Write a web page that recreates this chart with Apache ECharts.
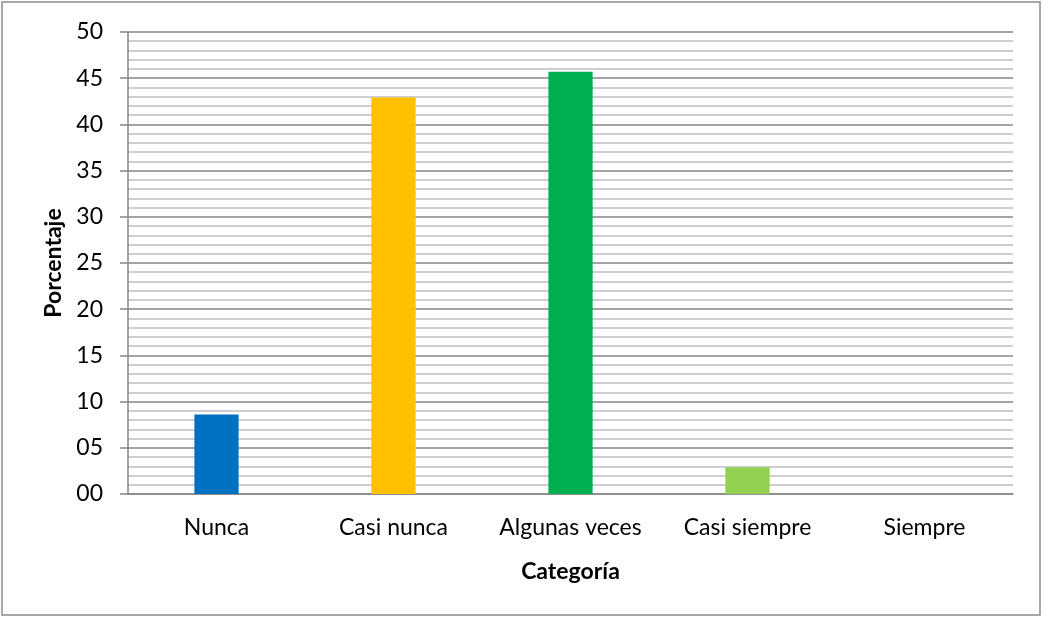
<!DOCTYPE html>
<html>
<head>
<meta charset="utf-8">
<script src="https://cdn.jsdelivr.net/npm/echarts@6/dist/echarts.min.js"></script>
<style>
  html, body { margin: 0; padding: 0; background: #fff; }
  #chart { width: 1043px; height: 618px; }
</style>
</head>
<body>
<div id="chart"></div>
<script>
// Response categories and their percentages
const categories = ['Nunca', 'Casi nunca', 'Algunas veces', 'Casi siempre', 'Siempre'];
const percentages = [8.6, 42.9, 45.7, 2.9, 0];
const barColors = ['#0070C0', '#FFC000', '#00B050', '#92D050', '#7F7F7F'];
const yMin = 0;
const yMax = 50;
const yStep = 5;

const FONT = 'Lato, "Open Sans", sans-serif';

const chart = echarts.init(document.getElementById('chart'), null, { renderer: 'canvas' });

chart.setOption({
  animation: false,
  backgroundColor: '#ffffff',
  graphic: [{
    type: 'rect',
    shape: { x: 2, y: 2, width: 1038, height: 613 },
    style: { fill: 'none', stroke: '#8c8c8c', lineWidth: 1.5 },
    silent: true
  }],
  grid: { left: 128, right: 30, top: 32, bottom: 124 },
  xAxis: {
    type: 'category',
    data: categories,
    name: 'Categoría',
    nameLocation: 'middle',
    nameGap: 66,
    nameTextStyle: { fontFamily: FONT, fontSize: 23, fontWeight: 'bold', color: '#000' },
    axisLine: { lineStyle: { color: '#868686', width: 1.5 } },
    axisTick: { show: false },
    axisLabel: { fontFamily: FONT, fontSize: 23, color: '#000', margin: 22, interval: 0, hideOverlap: false }
  },
  yAxis: {
    type: 'value',
    min: yMin,
    max: yMax,
    interval: yStep,
    name: 'Porcentaje',
    nameLocation: 'middle',
    nameGap: 63,
    nameRotate: 90,
    nameTextStyle: { fontFamily: FONT, fontSize: 23, fontWeight: 'bold', color: '#000' },
    axisLine: { show: true, lineStyle: { color: '#868686', width: 1.5 } },
    axisTick: { show: true, length: 8, lineStyle: { color: '#868686', width: 1.5 } },
    axisLabel: {
      fontFamily: FONT, fontSize: 23, color: '#000', margin: 25,
      formatter: v => String(v).padStart(2, '0')
    },
    splitLine: { show: true, lineStyle: { color: '#868686', width: 1.5 } },
    minorTick: { show: false, splitNumber: 5 },
    minorSplitLine: { show: true, lineStyle: { color: '#bfbfbf', width: 1.5 } }
  },
  series: [{
    type: 'bar',
    barWidth: '25%',
    data: percentages.map((v, i) => ({ value: v, itemStyle: { color: barColors[i] } }))
  }]
});
</script>
</body>
</html>
